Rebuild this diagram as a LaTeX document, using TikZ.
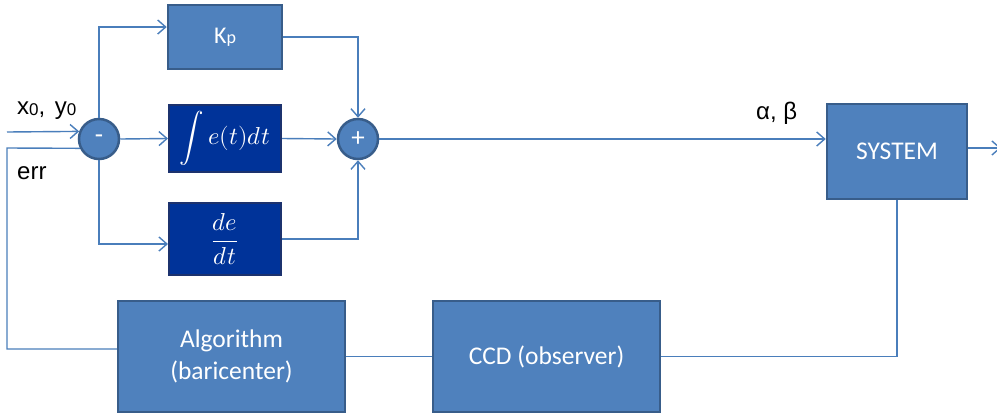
\documentclass[tikz,border=0pt]{standalone}
\usepackage{fontspec}
\usepackage{unicode-math}
\setmainfont{Carlito}
\setmathfont{Latin Modern Math}
\newfontfamily\arialf{Liberation Sans}
\usetikzlibrary{arrows.meta,calc}
\definecolor{boxfill}{RGB}{79,129,189}
\definecolor{boxline}{RGB}{56,93,138}
\definecolor{darkfill}{RGB}{0,51,153}
\definecolor{darkline}{RGB}{28,50,110}
\definecolor{wirec}{RGB}{74,126,187}
\begin{document}
\begin{tikzpicture}[x=1pt,y=-1pt,
  blk/.style={draw=boxline, fill=boxfill, line width=2.5pt, text=white, align=center, inner sep=0pt, font=\fontsize{25.5}{32}\selectfont},
  dblk/.style={draw=darkline, fill=darkfill, line width=2pt, text=white, inner sep=0pt, font=\fontsize{24.5}{29}\selectfont},
  sumc/.style={circle, draw=boxline, fill=boxfill, line width=2.5pt, minimum size=40pt, inner sep=0pt, text=white, font=\fontsize{27}{28}\selectfont},
  wire/.style={draw=wirec, line width=1.4pt},
  arr/.style={wire, -{Straight Barb[length=8pt,width=14pt,line width=1.4pt]}},
  lbl/.style={font=\arialf\fontsize{24}{30}\selectfont, inner sep=0pt}
]
\useasboundingbox[fill=white] (0,0) rectangle (997,416);
% blocks
\node[blk, minimum width=114pt, minimum height=64pt, font=\fontsize{24}{29}\selectfont] (kp) at (225,37) {K{\fontsize{18}{20}\selectfont p}};
\node[dblk, minimum width=112pt, minimum height=67pt] (int) at (225,138.5) {$\displaystyle\int e(t)dt$};
\node[dblk, minimum width=112pt, minimum height=72pt] (der) at (225,239) {$\displaystyle\frac{de}{dt}$};
\node[blk, minimum width=140pt, minimum height=95pt] (sys) at (897,151.5) {SYSTEM};
\node[blk, minimum width=227pt, minimum height=111pt] (alg) at (231.5,356.5) {Algorithm\\(baricenter)};
\node[blk, minimum width=227pt, minimum height=111pt] (ccd) at (546.5,356.5) {CCD (observer)};
\node[sumc] (m) at (99,139) {-};
\node[sumc] (p) at (358,139) {+};
% labels
\node[lbl, anchor=base west] (lx) at (17,114) {x\raisebox{-1pt}{\fontsize{17}{20}\selectfont 0},\hspace{0.4em}y\raisebox{-1pt}{\fontsize{17}{20}\selectfont 0}};
\node[lbl, anchor=base west] (le) at (17,179) {err};
\node[lbl, anchor=base west] (lab) at (756,119) {α, β};
% coordinates
\coordinate (in) at (7,132);
\coordinate (fb) at (7,148);
\coordinate (out) at (1001,148);
% connectors
\draw[arr] (in) -- (m.159.5);
\draw[wire] (alg.west |- 0,349) -| (fb) -- (m.206.7);
\draw[arr] (m.north) |- (kp.west |- 0,27);
\draw[arr] (m.east) -- (int.west);
\draw[arr] (m.south) |- (der.west |- 0,244);
\draw[arr] (kp.east) -| (p.north);
\draw[arr] (int.east) -- (p.west);
\draw[arr] (der.east) -| (p.south);
\draw[arr] (p.east) -- (sys.west |- p.east);
\draw[arr] (sys.east |- out) -- (out);
\draw[wire] (sys.south) |- (ccd.east);
\draw[wire] (ccd.west) -- (alg.east |- ccd.west);
\end{tikzpicture}
\end{document}
